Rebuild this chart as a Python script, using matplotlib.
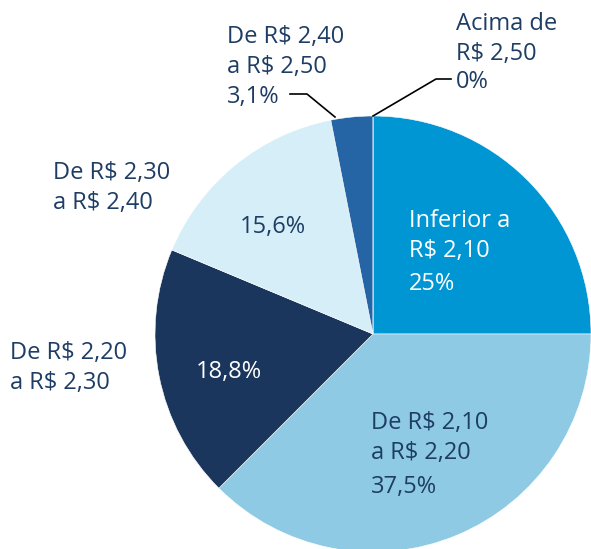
import matplotlib
matplotlib.use("Agg")
import matplotlib.pyplot as plt

categories = ["Inferior a\nR$ 2,10", "De R$ 2,10\na R$ 2,20", "De R$ 2,20\na R$ 2,30",
              "De R$ 2,30\na R$ 2,40", "De R$ 2,40\na R$ 2,50", "Acima de\nR$ 2,50"]
values = [25, 37.5, 18.8, 15.6, 3.1, 0]
pct_labels = ["25%", "37,5%", "18,8%", "15,6%", "3,1%", "0%"]
colors = ["#0095D3", "#8ECAE4", "#1A365D", "#D5EEF7", "#2565A6", "#1A4F8A"]

TXT = "#1E3D64"
W, H = 591, 549
plt.rcParams['font.family'] = ['Open Sans', 'DejaVu Sans']
fig = plt.figure(figsize=(W / 100, H / 100), dpi=100)
ax = fig.add_axes([0, 0, 1, 1])
ax.axis("off")

def Y(py):
    return H - py

ax.pie(values, colors=colors, startangle=90, counterclock=False,
       center=(373, Y(334)), radius=218,
       wedgeprops=dict(linewidth=0.4, edgecolor="white"))
ax.set_xlim(0, W)
ax.set_ylim(0, H)
ax.set_aspect("equal")

fs = 17
ls = 1.38

def lab(x, y, s, c=TXT):
    ax.text(x, Y(y), s, ha="left", va="center", fontsize=fs, color=c, linespacing=ls)

# Inferior a R$ 2,10
lab(409, 236, categories[0], "white")
lab(409, 284, pct_labels[0], "white")
# De R$ 2,10 a R$ 2,20
lab(371, 438, categories[1])
lab(371, 487, pct_labels[1])
# De R$ 2,20 a R$ 2,30
lab(10, 368, categories[2])
lab(196, 372, pct_labels[2], "white")
# De R$ 2,30 a R$ 2,40
lab(53, 188, categories[3])
lab(240, 227, pct_labels[3])
# De R$ 2,40 a R$ 2,50
lab(227, 52, categories[4])
lab(227, 97, pct_labels[4])
# Acima de R$ 2,50
lab(456, 39, categories[5])
lab(456, 82, pct_labels[5])

# leader lines
ax.plot([290, 307, 335], [Y(94), Y(94), Y(117)], color="black", lw=1.2)
ax.plot([373, 436, 451], [Y(116), Y(79), Y(79)], color="black", lw=1.2)

fig.savefig("out.png", dpi=100)
